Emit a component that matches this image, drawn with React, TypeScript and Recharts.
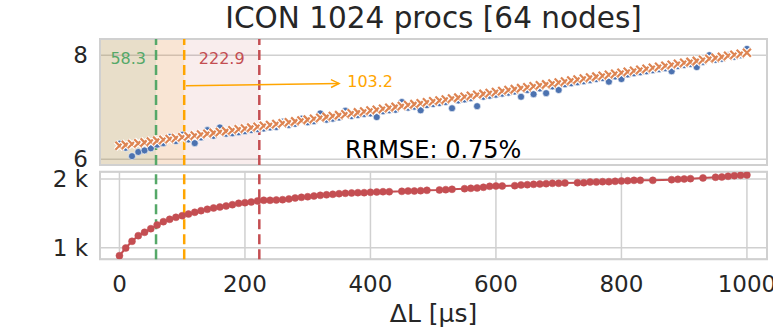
import { ComposedChart, LineChart, Line, XAxis, YAxis, CartesianGrid, ReferenceArea, ReferenceLine, ReferenceDot } from 'recharts';

const X_STEPS = [0, 10, 20, 30, 40, 50, 60, 70, 80, 90, 100, 110, 120, 130, 140, 150, 160, 170, 180, 190, 200, 210, 220, 230, 240, 250, 260, 270, 280, 290, 300, 310, 320, 330, 340, 350, 360, 370, 380, 390, 400, 410, 420, 430, 440, 450, 460, 470, 480, 490, 500, 510, 520, 530, 540, 550, 560, 570, 580, 590, 600, 610, 620, 630, 640, 650, 660, 670, 680, 690, 700, 710, 720, 730, 740, 750, 760, 770, 780, 790, 800, 810, 820, 830, 840, 850, 860, 870, 880, 890, 900, 910, 920, 930, 940, 950, 960, 970, 980, 990, 1000];
const MEASURED = [6.30, 6.22, 6.06, 6.14, 6.17, 6.21, 6.28, 6.31, 6.43, 6.35, 6.47, 6.38, 6.31, 6.42, 6.56, 6.45, 6.61, 6.49, 6.50, 6.52, 6.54, 6.56, 6.58, 6.59, 6.61, 6.62, 6.72, 6.66, 6.68, 6.78, 6.71, 6.73, 6.88, 6.76, 6.78, 6.80, 6.93, 6.83, 6.85, 6.87, 6.88, 6.81, 6.92, 6.94, 6.95, 7.10, 6.99, 7.01, 6.94, 7.04, 7.06, 7.08, 7.10, 6.98, 7.13, 7.15, 7.17, 7.02, 7.20, 7.22, 7.24, 7.26, 7.28, 7.30, 7.20, 7.33, 7.25, 7.36, 7.27, 7.40, 7.33, 7.44, 7.46, 7.48, 7.50, 7.52, 7.54, 7.56, 7.49, 7.59, 7.54, 7.63, 7.65, 7.67, 7.69, 7.71, 7.73, 7.75, 7.69, 7.79, 7.81, 7.83, 7.77, 7.87, 8.00, 7.91, 7.93, 8.00, 7.97, 8.00, 8.12];
const MODEL = [6.260, 6.276, 6.293, 6.309, 6.325, 6.342, 6.358, 6.375, 6.391, 6.408, 6.424, 6.441, 6.457, 6.474, 6.491, 6.507, 6.524, 6.541, 6.558, 6.575, 6.591, 6.608, 6.625, 6.642, 6.659, 6.676, 6.693, 6.710, 6.728, 6.745, 6.762, 6.779, 6.796, 6.814, 6.831, 6.848, 6.866, 6.883, 6.901, 6.918, 6.936, 6.953, 6.971, 6.988, 7.006, 7.024, 7.041, 7.059, 7.077, 7.095, 7.113, 7.130, 7.148, 7.166, 7.184, 7.202, 7.220, 7.238, 7.256, 7.274, 7.293, 7.311, 7.329, 7.347, 7.366, 7.384, 7.402, 7.421, 7.439, 7.457, 7.476, 7.494, 7.513, 7.532, 7.550, 7.569, 7.587, 7.606, 7.625, 7.644, 7.662, 7.681, 7.700, 7.719, 7.738, 7.757, 7.776, 7.795, 7.814, 7.833, 7.852, 7.871, 7.890, 7.910, 7.929, 7.948, 7.967, 7.987, 8.006, 8.026, 8.045];

const RED_X = [0, 10, 20, 30, 40, 50, 60, 70, 80, 90, 100, 110, 120, 130, 140, 150, 160, 170, 180, 190, 200, 210, 220, 230, 240, 250, 260, 270, 280, 290, 300, 310, 320, 330, 340, 350, 360, 370, 380, 390, 400, 410, 420, 430, 450, 460, 470, 480, 490, 510, 520, 530, 550, 560, 570, 580, 590, 600, 610, 630, 640, 650, 660, 670, 680, 690, 700, 710, 730, 740, 750, 760, 770, 780, 790, 800, 810, 820, 830, 850, 880, 890, 900, 910, 930, 950, 960, 970, 980, 990, 1000];
const RED_Y = [884, 995, 1093, 1175, 1224, 1277, 1330, 1379, 1413, 1442, 1466, 1490, 1515, 1539, 1559, 1578, 1592, 1607, 1626, 1646, 1655, 1665, 1680, 1690, 1690, 1694, 1699, 1709, 1723, 1733, 1742, 1752, 1762, 1770, 1777, 1786, 1792, 1796, 1801, 1801, 1806, 1811, 1815, 1815, 1820, 1825, 1825, 1830, 1835, 1840, 1845, 1850, 1859, 1864, 1869, 1879, 1893, 1898, 1898, 1903, 1913, 1917, 1922, 1927, 1932, 1937, 1937, 1942, 1946, 1946, 1956, 1956, 1961, 1961, 1966, 1971, 1975, 1980, 1980, 1980, 1990, 1995, 2000, 2005, 2015, 2025, 2029, 2039, 2048, 2054, 2058];

const X_TICKS = [0, 200, 400, 600, 800, 1000];
const TOP_TICKS = [6, 8];
const BOTTOM_TICKS = [1000, 2000];

const MARKS = { green: 58.3, orange: 103.2, red: 222.9 };

const X_DOMAIN = [-31, 1032];
const TOP_DOMAIN = [5.89, 8.31];
const BOTTOM_DOMAIN = [831, 2106];

const FONT = '"DejaVu Sans", sans-serif';
const INK = '#262626';
const GRID = '#d0d0d0';

const topData = X_STEPS.map((x, i) => ({ x, measured: MEASURED[i], model: MODEL[i] }));
const bottomData = RED_X.map((x, i) => ({ x, y: RED_Y[i] }));

const blueDot = (p: any) => (
  <circle key={`b${p.index}`} cx={p.cx} cy={p.cy} r={3.5} fill="#4c72b0" stroke="#fff" strokeWidth={0.6} />
);

const crossDot = (p: any) => {
  const s = 4;
  const d = `M${p.cx - s},${p.cy - s}L${p.cx + s},${p.cy + s}M${p.cx - s},${p.cy + s}L${p.cx + s},${p.cy - s}`;
  return (
    <g key={`m${p.index}`}>
      <path d={d} stroke="#fff" strokeWidth={4.5} />
      <path d={d} stroke="#dd8452" strokeWidth={2.2} />
    </g>
  );
};

const redDot = (p: any) => (
  <circle key={`r${p.index}`} cx={p.cx} cy={p.cy} r={3.5} fill="#c44e52" stroke="#c44e52" strokeWidth={0.5} />
);

const arrowShape = (p: any) => {
  const { x1, y1, x2, y2 } = p;
  const a = Math.atan2(y2 - y1, x2 - x1);
  const h = 9;
  const w = 0.45;
  const hx1 = x2 - h * Math.cos(a - w);
  const hy1 = y2 - h * Math.sin(a - w);
  const hx2 = x2 - h * Math.cos(a + w);
  const hy2 = y2 - h * Math.sin(a + w);
  return (
    <g>
      <line x1={x1} y1={y1} x2={x2} y2={y2} stroke="#ffa500" strokeWidth={1.5} />
      <path d={`M${hx1},${hy1}L${x2},${y2}L${hx2},${hy2}`} fill="none" stroke="#ffa500" strokeWidth={1.5} />
    </g>
  );
};

const textShape = (label: string, color: string, anchor: string) => (p: any) => (
  <text x={p.cx} y={p.cy} fill={color} fontSize={16} fontFamily={FONT} textAnchor={anchor} dominantBaseline="central">
    {label}
  </text>
);

const dashed = { strokeWidth: 2.5, strokeDasharray: '10 5' };

export default function App() {
  const tick = { fill: INK, fontSize: 23, fontFamily: FONT };
  return (
    <div style={{ position: 'absolute', left: 0, top: 0, width: 773, height: 332, background: '#fff' }}>
      <div style={{ position: 'absolute', left: 0, top: 160 }}>
        <LineChart width={773} height={172} data={bottomData} margin={{ top: 11.7, right: 6, bottom: 0, left: 0 }}>
          <CartesianGrid stroke={GRID} strokeWidth={1.5} />
          <XAxis dataKey="x" type="number" domain={X_DOMAIN} ticks={X_TICKS} interval={0} height={72.7} tickLine={false} axisLine={false} tickSize={0} tickMargin={16} tick={tick} allowDataOverflow />
          <YAxis type="number" domain={BOTTOM_DOMAIN} ticks={BOTTOM_TICKS} interval={0} width={100} tickLine={false} axisLine={false} tickSize={0} tickMargin={12} tick={tick} tickFormatter={(v: number) => `${v / 1000} k`} allowDataOverflow />
          <Line dataKey="y" stroke="#c44e52" strokeWidth={2} dot={redDot} activeDot={false} isAnimationActive={false} />
          <ReferenceLine x={MARKS.green} stroke="#55a868" {...dashed} />
          <ReferenceLine x={MARKS.orange} stroke="#ffa500" {...dashed} />
          <ReferenceLine x={MARKS.red} stroke="#c44e52" {...dashed} />
          <ReferenceArea x1={X_DOMAIN[0]} x2={X_DOMAIN[1]} y1={BOTTOM_DOMAIN[0]} y2={BOTTOM_DOMAIN[1]} fill="none" stroke={GRID} strokeWidth={2} ifOverflow="visible" />
        </LineChart>
      </div>
      <div style={{ position: 'absolute', left: 0, top: 0 }}>
        <ComposedChart width={773} height={180} data={topData} margin={{ top: 39, right: 6, bottom: 15, left: 0 }}>
          <CartesianGrid vertical={false} stroke={GRID} strokeWidth={1.5} />
          <XAxis dataKey="x" type="number" domain={X_DOMAIN} ticks={X_TICKS} hide allowDataOverflow />
          <YAxis type="number" domain={TOP_DOMAIN} ticks={TOP_TICKS} interval={0} width={100} tickLine={false} axisLine={false} tickSize={0} tickMargin={12} tick={tick} allowDataOverflow />
          <ReferenceArea x1={X_DOMAIN[0]} x2={MARKS.red} y1={TOP_DOMAIN[0]} y2={TOP_DOMAIN[1]} fill="#c44e52" fillOpacity={0.1} stroke="none" />
          <ReferenceArea x1={X_DOMAIN[0]} x2={MARKS.orange} y1={TOP_DOMAIN[0]} y2={TOP_DOMAIN[1]} fill="#ffa500" fillOpacity={0.1} stroke="none" />
          <ReferenceArea x1={X_DOMAIN[0]} x2={MARKS.green} y1={TOP_DOMAIN[0]} y2={TOP_DOMAIN[1]} fill="#55a868" fillOpacity={0.1} stroke="none" />
          <Line dataKey="measured" stroke="none" dot={blueDot} activeDot={false} isAnimationActive={false} />
          <Line dataKey="model" stroke="none" dot={crossDot} activeDot={false} isAnimationActive={false} />
          <ReferenceLine x={MARKS.green} stroke="#55a868" {...dashed} />
          <ReferenceLine x={MARKS.orange} stroke="#ffa500" {...dashed} />
          <ReferenceLine x={MARKS.red} stroke="#c44e52" {...dashed} />
          <ReferenceLine segment={[{ x: 106, y: 7.41 }, { x: 350, y: 7.457 }]} ifOverflow="visible" shape={arrowShape} />
          <ReferenceDot x={363} y={7.488} r={0} ifOverflow="visible" shape={textShape('103.2', '#ffa500', 'start')} />
          <ReferenceDot x={14} y={7.94} r={0} ifOverflow="visible" shape={textShape('58.3', '#55a868', 'middle')} />
          <ReferenceDot x={163} y={7.94} r={0} ifOverflow="visible" shape={textShape('222.9', '#c44e52', 'middle')} />
          <ReferenceArea x1={X_DOMAIN[0]} x2={X_DOMAIN[1]} y1={TOP_DOMAIN[0]} y2={TOP_DOMAIN[1]} fill="none" stroke={GRID} strokeWidth={2} ifOverflow="visible" />
        </ComposedChart>
      </div>
      <svg width={773} height={332} style={{ position: 'absolute', left: 0, top: 0, pointerEvents: 'none' }}>
        <text x={433.5} y={28} textAnchor="middle" fontSize={29.5} fontFamily={FONT} fill={INK}>ICON 1024 procs [64 nodes]</text>
        <text x={345} y={158} fontSize={24} fontFamily={FONT} fill="#000">RRMSE: 0.75%</text>
        <text x={433.5} y={322} textAnchor="middle" fontSize={25} fontFamily={FONT} fill={INK}>ΔL [μs]</text>
      </svg>
    </div>
  );
}
